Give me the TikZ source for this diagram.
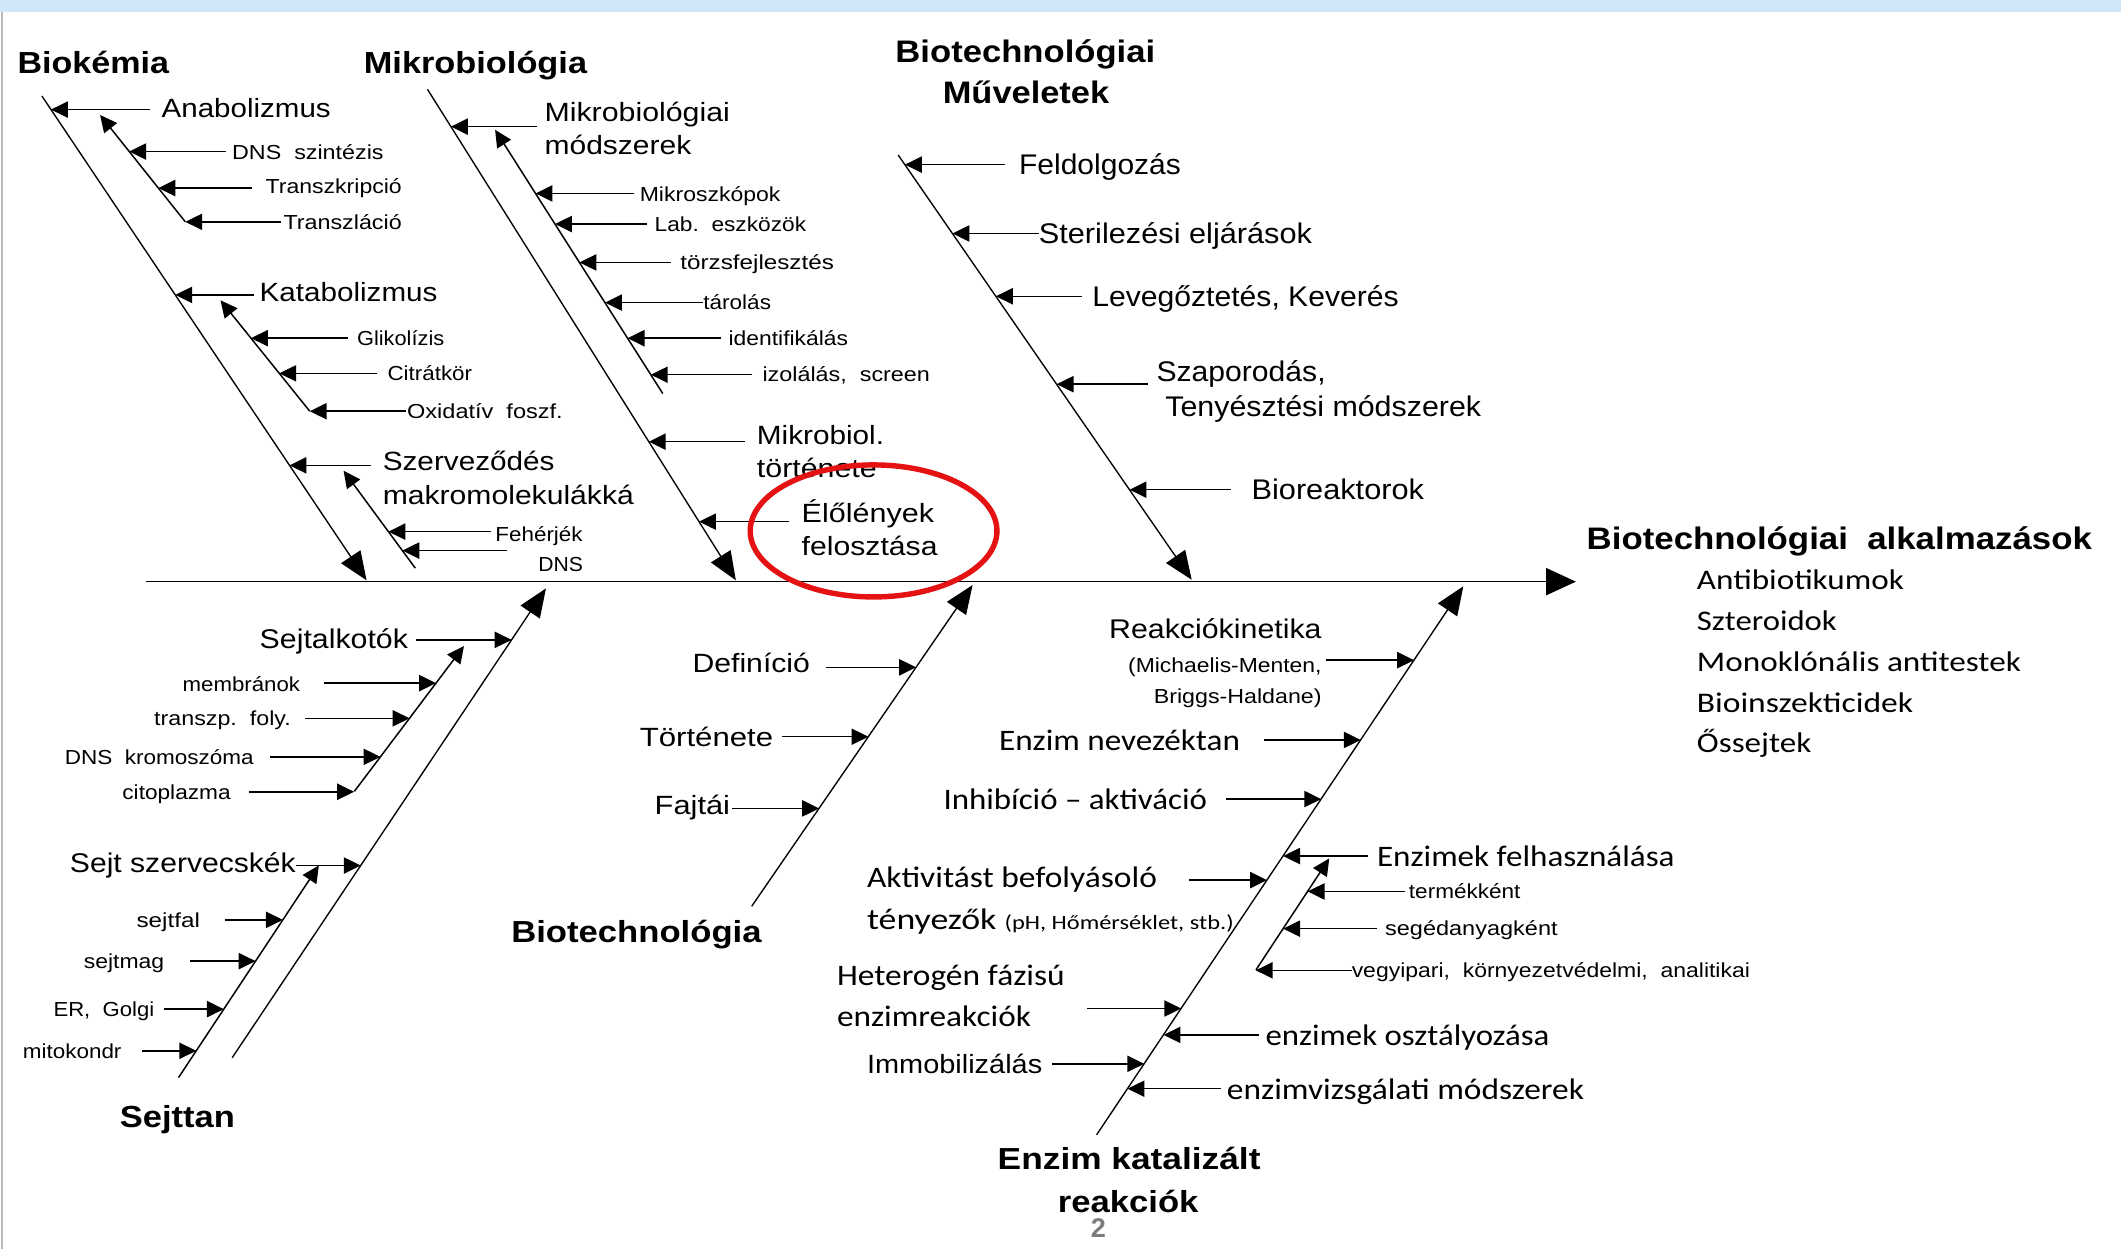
\documentclass[tikz,border=0pt]{standalone}
\usepackage{fontspec}
\usepackage{graphicx}
\setmainfont{Liberation Sans}
\newfontfamily\calf{Carlito}
\usetikzlibrary{arrows.meta}
\definecolor{topband}{RGB}{208,231,250}
\definecolor{ringred}{RGB}{228,18,18}
\definecolor{pagegrey}{RGB}{125,125,125}
\tikzset{
  lblst/.style={anchor=base west, inner sep=0pt, outer sep=0pt},
  arr/.style={-{Triangle[length=12.5pt,width=12pt]}, line width=1.1pt},
  bone/.style={-{Triangle[length=21pt,width=17pt]}, line width=1pt},
  spinest/.style={-{Triangle[length=22pt,width=20pt]}, line width=1.2pt},
  ring/.style={draw=ringred, line width=4pt}
}
% name, font, size, x-left, y-centre, width, text
\newcommand{\lbl}[7]{\node[lblst, font={#2\fontsize{#3}{#3}\selectfont}] (#1) at (#4,{#5+0.36*#3}) {\resizebox{#6pt}{\height}{#7}};}
% tip coordinate: name, bone start, bone end, y
\newcommand{\tipon}[4]{\coordinate (#1) at (intersection of #2--#3 and 0,#4--10,#4);}
% arrow from label (west side) to tip, gap
\newcommand{\arL}[3]{\draw[arr, shorten <=#3pt] (#1.west |- #2) -- (#2);}
% arrow from label (east side) to tip, gap
\newcommand{\arR}[3]{\draw[arr, shorten <=#3pt] (#1.east |- #2) -- (#2);}
\begin{document}
\begin{tikzpicture}[x=1pt,y=-1pt]
\useasboundingbox (0,0) rectangle (1568,923);
\fill[white] (0,0) rectangle (1568,923);
\fill[topband] (0,0) rectangle (1568,8.6);
\draw[gray!55, line width=1.5pt] (1.2,8.6) -- (1.2,923);

% ---------- bones ----------
\coordinate (sp0) at (108,430);   \coordinate (sp1) at (1165,430);
\coordinate (bkA) at (31,71);     \coordinate (bkB) at (271,429);
\coordinate (anA) at (137,164);   \coordinate (anB) at (74,85);
\coordinate (kaA) at (229,304);   \coordinate (kaB) at (163,222);
\coordinate (szA) at (307,420);   \coordinate (szB) at (254,348);
\coordinate (mbA) at (316,66);    \coordinate (mbB) at (544,429);
\coordinate (msA) at (490,291);   \coordinate (msB) at (366,96);
\coordinate (mvA) at (664,114.6); \coordinate (mvB) at (881,428.6);
\coordinate (stA) at (171.6,782); \coordinate (stB) at (403.6,435);
\coordinate (s1A) at (262,585);   \coordinate (s1B) at (343,477.6);
\coordinate (s2A) at (132,796.6); \coordinate (s2B) at (235.7,639.8);
\coordinate (btA) at (555.7,670); \coordinate (btB) at (719,432.5);
\coordinate (ezA) at (810.7,838.9); \coordinate (ezB) at (1081.8,433.4);
\coordinate (esA) at (928.5,717); \coordinate (esB) at (982.7,634.6);

\draw[spinest] (sp0) -- (sp1);
\draw[bone] (bkA) -- (bkB);
\draw[arr] (anA) -- (anB);
\draw[arr] (kaA) -- (kaB);
\draw[arr] (szA) -- (szB);
\draw[bone] (mbA) -- (mbB);
\draw[arr] (msA) -- (msB);
\draw[bone] (mvA) -- (mvB);
\draw[bone] (stA) -- (stB);
\draw[arr] (s1A) -- (s1B);
\draw[arr] (s2A) -- (s2B);
\draw[bone] (btA) -- (btB);
\draw[bone] (ezA) -- (ezB);
\draw[arr] (esA) -- (esB);

% ---------- Biokémia ----------
\lbl{hBio}{\bfseries}{22.5}{13}{46}{112}{Biokémia}
\lbl{lAna}{}{19.5}{119.5}{80}{125}{Anabolizmus}
\lbl{lDNSsz}{}{15}{171.6}{112.5}{112}{DNS\ \ szintézis}
\lbl{lTrk}{}{15}{196.4}{138}{100.6}{Transzkripció}
\lbl{lTrl}{}{15}{209.6}{164}{87.4}{Transzláció}
\lbl{lKat}{}{19.5}{192}{215.6}{131.4}{Katabolizmus}
\lbl{lGli}{}{15}{264}{250}{64.4}{Glikolízis}
\lbl{lCit}{}{15}{286.5}{276}{62.5}{Citrátkör}
\lbl{lOxi}{}{15}{301}{304}{115}{Oxidatív\ \ foszf.}
\lbl{lSzv}{}{19.5}{283}{341}{127}{Szerveződés}
\lbl{lMak}{}{19.5}{283}{366}{185.6}{makromolekulákká}
\lbl{lFeh}{}{15}{366.3}{394.7}{64.4}{Fehérjék}
\lbl{lDNS}{}{15}{398}{417}{33}{DNS}
\tipon{tAna}{bkA}{bkB}{81}
\tipon{tDNSsz}{anA}{anB}{112}
\tipon{tTrk}{anA}{anB}{139}
\tipon{tTrl}{anA}{anB}{164}
\tipon{tKat}{bkA}{bkB}{218}
\tipon{tGli}{kaA}{kaB}{250}
\tipon{tCit}{kaA}{kaB}{276}
\tipon{tOxi}{kaA}{kaB}{304}
\tipon{tSzv}{bkA}{bkB}{344}
\tipon{tFeh}{szA}{szB}{393}
\tipon{tDNS}{szA}{szB}{407}
\arL{lAna}{tAna}{8.5}
\arL{lDNSsz}{tDNSsz}{4.6}
\arL{lTrk}{tTrk}{10.4}
\arL{lTrl}{tTrl}{1.6}
\arL{lKat}{tKat}{4}
\arL{lGli}{tGli}{7}
\arL{lCit}{tCit}{7.5}
\arL{lOxi}{tOxi}{1}
\arL{lSzv}{tSzv}{9}
\arL{lFeh}{tFeh}{3.3}
\arL{lDNS}{tDNS}{23}

% ---------- Mikrobiológia ----------
\lbl{hMik}{\bfseries}{22.5}{269}{46}{165}{Mikrobiológia}
\lbl{lMm1}{}{19.5}{402.6}{82.5}{137}{Mikrobiológiai}
\lbl{lMm2}{}{19.5}{402.6}{107}{108.5}{módszerek}
\lbl{lMsz}{}{15}{473}{143.7}{104}{Mikroszkópok}
\lbl{lLab}{}{15}{484}{165.6}{112}{Lab.\ \ eszközök}
\lbl{lTor}{}{15}{503}{194}{113.5}{törzsfejlesztés}
\lbl{lTar}{}{15}{520}{223.7}{50}{tárolás}
\lbl{lIde}{}{15}{538.6}{250}{88.4}{identifikálás}
\lbl{lIzo}{}{15}{563.7}{277}{123.8}{izolálás,\ \ screen}
\lbl{lMt1}{}{19.5}{559.6}{321.6}{94}{Mikrobiol.}
\lbl{lMt2}{}{19.5}{559.6}{346}{88.6}{története}
\lbl{lEl1}{}{19.5}{592.7}{379.5}{97.8}{Élőlények}
\lbl{lEl2}{}{19.5}{592.7}{404}{100.4}{felosztása}
\tipon{tMm}{mbA}{mbB}{93.6}
\tipon{tMsz}{msA}{msB}{143}
\tipon{tLab}{msA}{msB}{165.6}
\tipon{tTor}{msA}{msB}{194}
\tipon{tTar}{msA}{msB}{223.7}
\tipon{tIde}{msA}{msB}{250}
\tipon{tIzo}{msA}{msB}{277}
\tipon{tMt}{mbA}{mbB}{326.5}
\tipon{tEl}{mbA}{mbB}{385.6}
\arL{lMm1}{tMm}{5.6}
\arL{lMsz}{tMsz}{4}
\arL{lLab}{tLab}{6}
\arL{lTor}{tTor}{7}
\arL{lTar}{tTar}{0}
\arL{lIde}{tIde}{5.6}
\arL{lIzo}{tIzo}{7.7}
\arL{lMt1}{tMt}{9}
\arL{lEl1}{tEl}{9.7}

% ---------- Biotechnológiai Műveletek ----------
\lbl{hMv1}{\bfseries}{23}{662}{38}{192}{Biotechnológiai}
\lbl{hMv2}{\bfseries}{23}{697}{68}{123}{Műveletek}
\lbl{lFel}{}{21}{753.4}{121.7}{119.6}{Feldolgozás}
\lbl{lSte}{}{21}{768}{172.6}{202}{Sterilezési eljárások}
\lbl{lLev}{}{21}{807.6}{219}{226.4}{Levegőztetés, Keverés}
\lbl{lSz1}{}{21}{855}{274.4}{125}{Szaporodás,}
\lbl{lSz2}{}{21}{861.5}{300}{233.5}{Tenyésztési módszerek}
\lbl{lBio}{}{21}{925.3}{362}{127.4}{Bioreaktorok}
\tipon{tFel}{mvA}{mvB}{121.7}
\tipon{tSte}{mvA}{mvB}{172.6}
\tipon{tLev}{mvA}{mvB}{219}
\tipon{tSz}{mvA}{mvB}{284}
\tipon{tBio}{mvA}{mvB}{362}
\arL{lFel}{tFel}{10.7}
\arL{lSte}{tSte}{0}
\arL{lLev}{tLev}{7.6}
\arL{lSz1}{tSz}{6.3}
\arL{lBio}{tBio}{15.3}

% ---------- Biotechnológiai alkalmazások ----------
\lbl{hApp}{\bfseries}{23}{1173}{398}{373.5}{Biotechnológiai\ \ alkalmazások}
\lbl{rA}{\calf}{21}{1254.5}{428.5}{153}{Antibiotikumok}
\lbl{rSz}{\calf}{21}{1254.5}{458.5}{103.4}{Szteroidok}
\lbl{rM}{\calf}{21}{1254.5}{489}{239.5}{Monoklónális antitestek}
\lbl{rB}{\calf}{21}{1254.5}{519}{159.8}{Bioinszekticidek}
\lbl{rO}{\calf}{21}{1254.5}{548.5}{84.5}{Őssejtek}

% ---------- Sejttan ----------
\lbl{hSej}{\bfseries}{22.5}{88.6}{825.6}{85}{Sejttan}
\lbl{lSal}{}{20}{192}{472}{109.6}{Sejtalkotók}
\lbl{lMem}{}{15}{135}{506}{86.8}{membránok}
\lbl{lTra}{}{15}{114}{531}{101}{transzp.\ \ foly.}
\lbl{lKro}{}{15}{47.9}{559.5}{139.6}{DNS\ \ kromoszóma}
\lbl{lCito}{}{15}{90.5}{585.3}{80}{citoplazma}
\lbl{lSsz}{}{20}{51.7}{638}{167}{Sejt szervecskék}
\lbl{lFal}{}{15}{101}{680}{46.8}{sejtfal}
\lbl{lMag}{}{15}{62}{710.5}{59.4}{sejtmag}
\lbl{lER}{}{15}{39.6}{746}{74.4}{ER,\ \ Golgi}
\lbl{lMit}{}{15}{17}{776.8}{72.8}{mitokondr}
\tipon{tSal}{stA}{stB}{473}
\tipon{tMem}{s1A}{s1B}{505}
\tipon{tTra}{s1A}{s1B}{531}
\tipon{tKro}{s1A}{s1B}{559.5}
\tipon{tCito}{s1A}{s1B}{585.3}
\tipon{tSsz}{stA}{stB}{639.8}
\tipon{tFal}{s2A}{s2B}{680}
\tipon{tMag}{s2A}{s2B}{710.5}
\tipon{tER}{s2A}{s2B}{746}
\tipon{tMit}{s2A}{s2B}{776.8}
\arR{lSal}{tSal}{5.8}
\arR{lMem}{tMem}{17.7}
\arR{lTra}{tTra}{10.5}
\arR{lKro}{tKro}{12.4}
\arR{lCito}{tCito}{13.5}
\arR{lSsz}{tSsz}{0}
\arR{lFal}{tFal}{18.2}
\arR{lMag}{tMag}{18.9}
\arR{lER}{tER}{7.4}
\arR{lMit}{tMit}{15}

% ---------- Biotechnológia ----------
\lbl{hBt}{\bfseries}{22.5}{378}{689}{185}{Biotechnológia}
\lbl{lDef}{}{19.5}{512}{489.9}{86.8}{Definíció}
\lbl{lTort}{}{19.5}{473}{544.6}{98.6}{Története}
\lbl{lFaj}{}{19.5}{484}{595}{55.7}{Fajtái}
\tipon{tDef}{btA}{btB}{493.3}
\tipon{tTort}{btA}{btB}{544.6}
\tipon{tFaj}{btA}{btB}{597.6}
\arR{lDef}{tDef}{12.2}
\arR{lTort}{tTort}{6.4}
\arR{lFaj}{tFaj}{1.3}

% ---------- Enzim katalizált reakciók ----------
\lbl{lRk1}{}{20}{820}{465}{157}{Reakciókinetika}
\lbl{lRk2}{}{15}{834}{491.7}{143}{(Michaelis-Menten,}
\lbl{lRk3}{}{15}{853}{514.5}{124}{Briggs-Haldane)}
\lbl{lNev}{\calf}{22}{738.6}{547}{178}{Enzim nevezéktan}
\lbl{lInh}{\calf}{22}{697.5}{590.7}{194.8}{Inhibíció – aktiváció}
\lbl{lAk1}{\calf}{22}{641}{648}{214.3}{Aktivitást befolyásoló}
\lbl{lAk2}{\calf}{22}{641}{679.4}{271}{tényezők {\fontsize{15}{15}\selectfont(pH, Hőmérséklet, stb.)}}
\lbl{lHe1}{\calf}{22}{618.8}{720.6}{168.3}{Heterogén fázisú}
\lbl{lHe2}{\calf}{22}{618.8}{751}{143.3}{enzimreakciók}
\lbl{lImm}{}{19.5}{641}{786.4}{129.5}{Immobilizálás}
\lbl{lEfh}{\calf}{22}{1018}{632.8}{220}{Enzimek felhasználása}
\lbl{lTer}{}{15}{1041.6}{659}{82.4}{termékként}
\lbl{lSeg}{}{15}{1024}{686.5}{127.5}{segédanyagként}
\lbl{lVeg}{}{15}{999.3}{717.3}{294.4}{vegyipari,\ \ környezetvédelmi,\ \ analitikai}
\lbl{lOsz}{\calf}{22}{935.6}{765}{209.8}{enzimek osztályozása}
\lbl{lVizs}{\calf}{22}{907}{804.8}{264}{enzimvizsgálati módszerek}
\lbl{hEz1}{\bfseries}{22.5}{737.6}{856.8}{194.3}{Enzim katalizált}
\lbl{hEz2}{\bfseries}{22.5}{782}{888.2}{104}{reakciók}
\tipon{tRk}{ezA}{ezB}{488}
\tipon{tNev}{ezA}{ezB}{547}
\tipon{tInh}{ezA}{ezB}{590.7}
\tipon{tAk}{ezA}{ezB}{650.6}
\tipon{tHe}{ezA}{ezB}{745.5}
\tipon{tImm}{ezA}{ezB}{786.4}
\tipon{tEfh}{ezA}{ezB}{632.8}
\tipon{tTer}{esA}{esB}{659}
\tipon{tSeg}{esA}{esB}{686.5}
\tipon{tVeg}{esA}{esB}{717.3}
\tipon{tOsz}{ezA}{ezB}{765}
\tipon{tVizs}{ezA}{ezB}{804.8}
\arR{lRk2}{tRk}{3}
\arR{lNev}{tNev}{17.9}
\arR{lInh}{tInh}{13.7}
\arR{lAk1}{tAk}{23.7}
\arR{lHe1}{tHe}{16.5}
\arR{lImm}{tImm}{7.2}
\arL{lEfh}{tEfh}{7}
\arL{lTer}{tTer}{2.6}
\arL{lSeg}{tSeg}{6}
\arL{lVeg}{tVeg}{0}
\arL{lOsz}{tOsz}{4.8}
\arL{lVizs}{tVizs}{4.4}

% ---------- highlight ring and page number ----------
\draw[ring] (645.8,392.5) ellipse [x radius=91.2, y radius=48.8];
\node[font=\bfseries\fontsize{20}{20}\selectfont, text=pagegrey, inner sep=0pt] (pnum) at (812,908) {2};
\end{tikzpicture}
\end{document}
